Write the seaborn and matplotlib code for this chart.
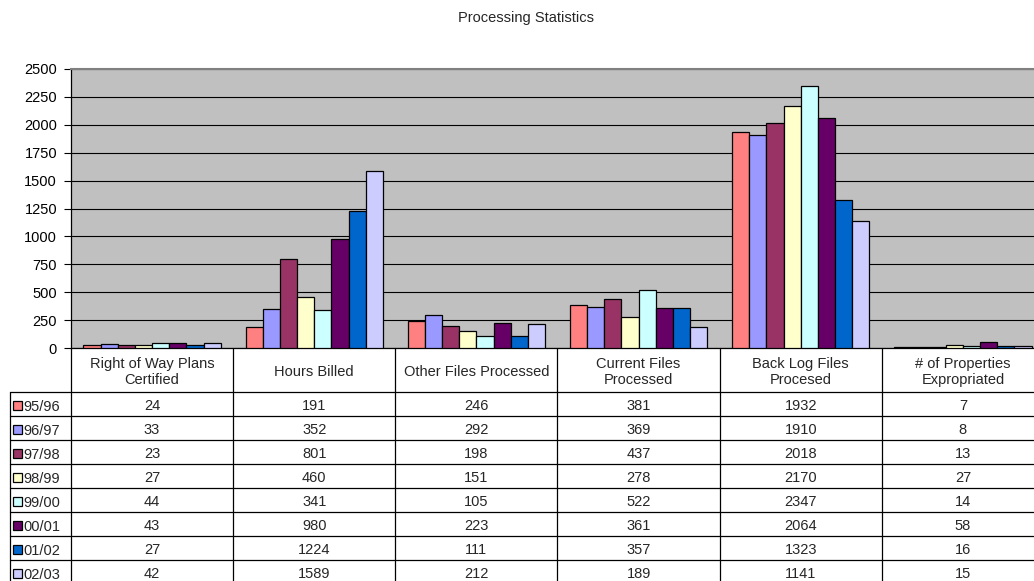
import matplotlib
matplotlib.use('Agg')
import matplotlib.pyplot as plt
import seaborn as sns
import pandas as pd
from matplotlib.transforms import blended_transform_factory, Affine2D, IdentityTransform
from matplotlib.patches import Rectangle

# ---------------- data ----------------
categories = ["Right of Way Plans\nCertified", "Hours Billed", "Other Files Processed",
              "Current Files\nProcessed", "Back Log Files\nProcesed", "# of Properties\nExpropriated"]
years = ["95/96", "96/97", "97/98", "98/99", "99/00", "00/01", "01/02", "02/03"]
right_of_way = [24, 33, 23, 27, 44, 43, 27, 42]
hours_billed = [191, 352, 801, 460, 341, 980, 1224, 1589]
other_files = [246, 292, 198, 151, 105, 223, 111, 212]
current_files = [381, 369, 437, 278, 522, 361, 357, 189]
back_log_files = [1932, 1910, 2018, 2170, 2347, 2064, 1323, 1141]
properties = [7, 8, 13, 27, 14, 58, 16, 15]
yticks = [0, 250, 500, 750, 1000, 1250, 1500, 1750, 2000, 2250, 2500]
colors = ['#FF8080', '#9999FF', '#993366', '#FFFFCC', '#CCFFFF', '#660066', '#0066CC', '#CCCCFF']

series = [right_of_way, hours_billed, other_files, current_files, back_log_files, properties]
rows = []
for cat, vals in zip(categories, series):
    for yr, v in zip(years, vals):
        rows.append({"Category": cat, "Year": yr, "Value": v})
df = pd.DataFrame(rows)

# ---------------- figure ----------------
W, H = 1034, 581
sns.set_theme(style="white")
plt.rcParams['font.family'] = ['Liberation Sans', 'DejaVu Sans']
FS = 10.5

fig = plt.figure(figsize=(W / 100, H / 100), dpi=100)
ax_left, ax_right, ax_top, ax_bottom = 71, 1044, 69, 348
ax = fig.add_axes([ax_left / W, 1 - ax_bottom / H, (ax_right - ax_left) / W, (ax_bottom - ax_top) / H])
ax.set_facecolor('#C0C0C0')

sns.barplot(data=df, x="Category", y="Value", hue="Year", order=categories, hue_order=years,
            palette=colors, saturation=1, edgecolor='black', linewidth=0.9,
            width=0.846, gap=0, legend=False, ax=ax, zorder=3)

ax.set_xlim(-0.5, len(categories) - 0.5)
ax.set_ylim(0, 2500)
ax.set_yticks(yticks)
ax.set_yticklabels([str(t) for t in yticks], fontsize=FS, color='black')
ax.set_xticks([])
ax.set_xlabel('')
ax.set_ylabel('')
ax.yaxis.grid(True, color='black', linewidth=0.8, zorder=0)
ax.set_axisbelow(True)
ax.tick_params(axis='y', direction='out', length=5, width=0.8, color='black', pad=5, left=True)
for side in ['left', 'bottom']:
    ax.spines[side].set_color('black')
    ax.spines[side].set_linewidth(0.9)
ax.spines['top'].set_color('#808080')
ax.spines['top'].set_linewidth(1.5)
ax.spines['right'].set_visible(False)

fig.text(526 / W, 1 - 18 / H, "Processing Statistics", ha='center', va='center', fontsize=FS)

# ---------------- data table ----------------
ypix = Affine2D().scale(1, -1).translate(0, H)           # pixel-from-top -> display
tr_col = blended_transform_factory(ax.transData, ypix)    # x in category units
tr_pix = ypix                                              # both in pixels from top-left

header_top, header_bot, row_h = 348, 392, 24
table_bot = header_bot + row_h * len(years)

lw = 0.9
# vertical lines at category boundaries
for i in range(len(categories) + 1):
    x = i - 0.5
    ax.plot([x, x], [header_top, table_bot], transform=tr_col, color='black', lw=lw, clip_on=False)
# left edge of legend column
ax.plot([10, 10], [header_bot, table_bot], transform=tr_pix, color='black', lw=lw, clip_on=False)
# horizontal lines
for r in range(len(years) + 1):
    y = header_bot + r * row_h
    ax.plot([10, W + 20], [y, y], transform=tr_pix, color='black', lw=lw, clip_on=False)

# header text
for i, cat in enumerate(categories):
    ax.text(i, (header_top + header_bot) / 2 + 2, cat, transform=tr_col, ha='center', va='center',
            fontsize=FS, linespacing=1.2, clip_on=False)

# values and legend keys
for r, (yr, col) in enumerate(zip(years, colors)):
    yc = header_bot + r * row_h + row_h / 2
    for i, vals in enumerate(series):
        ax.text(i, yc + 2, str(vals[r]), transform=tr_col, ha='center', va='center', fontsize=FS, clip_on=False)
    ax.text(23, yc + 3, yr, transform=tr_pix, ha='left', va='center', fontsize=FS, clip_on=False)
    key = Rectangle((13, H - (yc + 6)), 9, 9, transform=IdentityTransform(),
                    facecolor=col, edgecolor='black', linewidth=0.9)
    fig.add_artist(key)

fig.savefig("out.png", dpi=100)
